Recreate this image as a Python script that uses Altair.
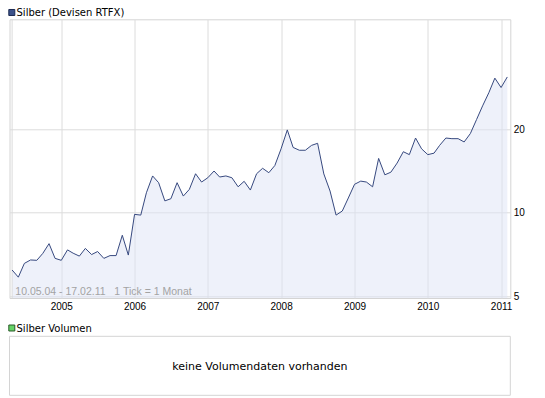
import altair as alt
import pandas as pd

# ---- text ----
SERIES_NAME = "Silber (Devisen RTFX)"
VOLUME_NAME = "Silber Volumen"
VOLUME_NOTE = "keine Volumendaten vorhanden"
RANGE_NOTE = "10.05.04 - 17.02.11\u00a0\u00a0\u00a01 Tick = 1 Monat"

# ---- data (monthly closes) ----
START_MONTH = "2004-05-01"
PRICE_2004 = [6.21, 5.85, 6.56, 6.75, 6.73, 7.13, 7.73, 6.84]
PRICE_2005 = [6.73, 7.34, 7.14, 6.97, 7.43, 7.06, 7.24, 6.84, 7.00, 7.00, 8.29, 7.03]
PRICE_2006 = [9.86, 9.80, 11.8, 13.57, 12.83, 11.03, 11.23, 12.83, 11.48, 12.14, 13.82, 12.90]
PRICE_2007 = [13.37, 14.14, 13.45, 13.57, 13.37, 12.40, 12.98, 12.07, 13.82, 14.46, 13.94, 14.8]
PRICE_2008 = [17.0, 19.9, 17.2, 16.8, 16.8, 17.5, 17.8, 13.8, 11.97, 9.8, 10.14, 11.3]
PRICE_2009 = [12.66, 13.0, 12.9, 12.4, 15.7, 13.7, 14.0, 15.1, 16.6, 16.2, 18.6, 17.0]
PRICE_2010 = [16.2, 16.4, 17.5, 18.6, 18.5, 18.5, 18.0, 19.3, 21.7, 24.3, 27.1, 30.6]
PRICE_2011 = [28.3, 30.9]

YEAR_TICKS = [2005, 2006, 2007, 2008, 2009, 2010, 2011]
Y_TICKS = [5, 10, 20]
Y_DOMAIN = [4.92, 49.9]

prices = (PRICE_2004 + PRICE_2005 + PRICE_2006 + PRICE_2007 + PRICE_2008
          + PRICE_2009 + PRICE_2010 + PRICE_2011)
dates = pd.date_range(START_MONTH, periods=len(prices), freq="MS").strftime("%Y-%m-%dT00:00:00")
df = pd.DataFrame({"date": list(dates), "price": prices})

# ---- style ----
W, H = 500.8, 278.7
FONT = "Liberation Sans"
LEG_FONT = "DejaVu Sans"
GRID = "#dcdcdc"
FRAME = "#d4d4d4"
LINE = "#37497f"
FILL = "#dde4f5"

x_enc = alt.X(
    "date:T", title=None,
    scale=alt.Scale(domain=[alt.DateTime(year=2004, month=4, date=18),
                            alt.DateTime(year=2011, month=2, date=16)], nice=False),
    axis=alt.Axis(values=[alt.DateTime(year=y, month=1, date=1) for y in YEAR_TICKS],
                  format="%Y", ticks=False, tickSize=0, domain=False, grid=True,
                  gridColor=GRID, gridWidth=1, labelPadding=3, labelFont=FONT,
                  labelFontSize=10, labelColor="#000000", labelAlign="center",
                  labelBaseline="top", labelFlush=False, labelOverlap=False),
)
y_enc = alt.Y(
    "price:Q", title=None,
    scale=alt.Scale(type="log", domain=Y_DOMAIN, nice=False),
    axis=alt.Axis(orient="right", values=Y_TICKS, format="d", ticks=False, tickSize=0,
                  domain=False, grid=True, gridColor=GRID, gridWidth=1, labelPadding=3,
                  labelFont=FONT, labelFontSize=10, labelColor="#000000",
                  labelAlign="left", labelBaseline="middle", labelFlush=False,
                  labelOverlap=False),
)

area = alt.Chart(df).mark_area(color=FILL, opacity=0.5).encode(
    x=x_enc, y=y_enc, y2=alt.datum(Y_DOMAIN[0]))
start_rule = alt.Chart(df.head(1)).mark_rule(color=GRID, strokeWidth=1).encode(x=x_enc)
line = alt.Chart(df).mark_line(color=LINE, strokeWidth=1).encode(x=x_enc, y=y_enc)

note = alt.Chart(alt.Data(values=[{"t": RANGE_NOTE}])).mark_text(
    align="left", baseline="middle", font=FONT, fontSize=10.5, color="#a3a3a3"
).encode(x=alt.value(5.8), y=alt.value(272.4), text="t:N")

legend_sq = alt.Chart(alt.Data(values=[{"t": SERIES_NAME}])).mark_square(
    size=36, fill="#3b5189", stroke="#1c2a52", strokeWidth=1, opacity=1
).encode(x=alt.value(2.3), y=alt.value(-6.8))
legend_tx = alt.Chart(alt.Data(values=[{"t": SERIES_NAME}])).mark_text(
    align="left", baseline="alphabetic", font=LEG_FONT, fontSize=10, color="#000000"
).encode(x=alt.value(7.0), y=alt.value(-3.0), text="t:N")

vol_sq = alt.Chart(alt.Data(values=[{"t": VOLUME_NAME}])).mark_square(
    size=36, fill="#66d466", stroke="#2b5a2b", strokeWidth=1, opacity=1
).encode(x=alt.value(2.3), y=alt.value(308.7))
vol_tx = alt.Chart(alt.Data(values=[{"t": VOLUME_NAME}])).mark_text(
    align="left", baseline="alphabetic", font=LEG_FONT, fontSize=10, color="#000000"
).encode(x=alt.value(7.0), y=alt.value(312.3), text="t:N")
vol_box = alt.Chart(alt.Data(values=[{"t": VOLUME_NOTE}])).mark_rect(
    fill="#ffffff", stroke=FRAME, strokeWidth=1
).encode(x=alt.value(0), x2=alt.value(W), y=alt.value(317), y2=alt.value(376))
vol_note = alt.Chart(alt.Data(values=[{"t": VOLUME_NOTE}])).mark_text(
    align="center", baseline="middle", font="DejaVu Sans", fontSize=11, color="#000000"
).encode(x=alt.value(W / 2), y=alt.value(347.5), text="t:N")

chart = alt.layer(
    area, start_rule, line, note, legend_sq, legend_tx, vol_sq, vol_tx, vol_box, vol_note
).properties(
    width=W, height=H,
    autosize=alt.AutoSizeParams(type="none"),
    padding={"left": 1.5, "top": 11.3, "right": 24.7, "bottom": 99},
).configure_view(stroke=FRAME, strokeWidth=1)

chart.save("out.html", embed_options={"renderer": "svg", "actions": False})
